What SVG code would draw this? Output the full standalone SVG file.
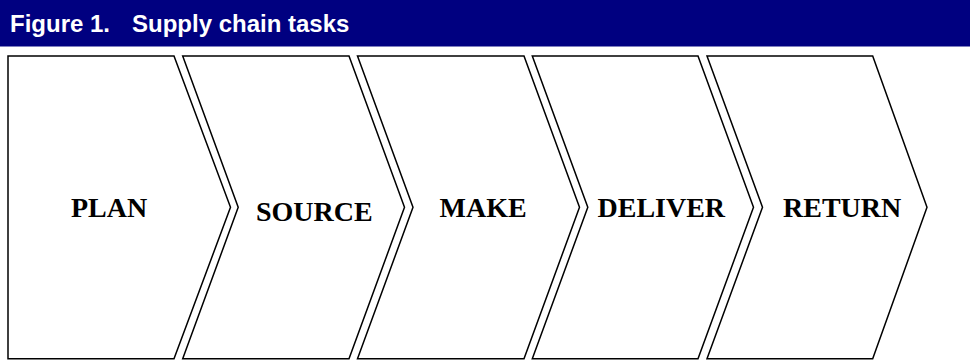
<svg xmlns="http://www.w3.org/2000/svg" width="970" height="361" viewBox="0 0 970 361">
<style>
.title{font-family:"Liberation Sans",Arial,sans-serif;font-weight:bold;font-size:24px;fill:#fff}
.chev{fill:#fff;stroke:#000;stroke-width:1.5;stroke-linejoin:miter}
.lbl{font-family:"Liberation Serif","Times New Roman",serif;font-weight:bold;font-size:28px;fill:#000}
</style>
<rect x="0" y="0" width="970" height="46.5" fill="#000080"/>
<text class="title" y="32"><tspan x="10">Figure 1.</tspan><tspan x="132">Supply chain tasks</tspan></text>
<g id="plan">
<polygon class="chev" points="8,56 174,56 230.5,207.3 174,358.7 8,358.7"/>
<text class="lbl" x="71" y="217">PLAN</text>
</g>
<g id="source">
<polygon class="chev" points="182.7,56 349,56 404.5,207.3 349,358.7 182.7,358.7 238.2,207.3"/>
<text class="lbl" x="256" y="221">SOURCE</text>
</g>
<g id="make">
<polygon class="chev" points="357.5,56 524,56 579.5,207.3 524,358.7 357.5,358.7 413,207.3"/>
<text class="lbl" x="439.5" y="217">MAKE</text>
</g>
<g id="deliver">
<polygon class="chev" points="532.3,56 698,56 753.5,207.3 698,358.7 532.3,358.7 587.8,207.3"/>
<text class="lbl" x="597.5" y="217">DELIVER</text>
</g>
<g id="return">
<polygon class="chev" points="707,56 872.7,56 927,207.3 872.7,358.7 707,358.7 762.5,207.3"/>
<text class="lbl" x="783" y="217">RETURN</text>
</g>
<g id="connectors"></g>
</svg>
